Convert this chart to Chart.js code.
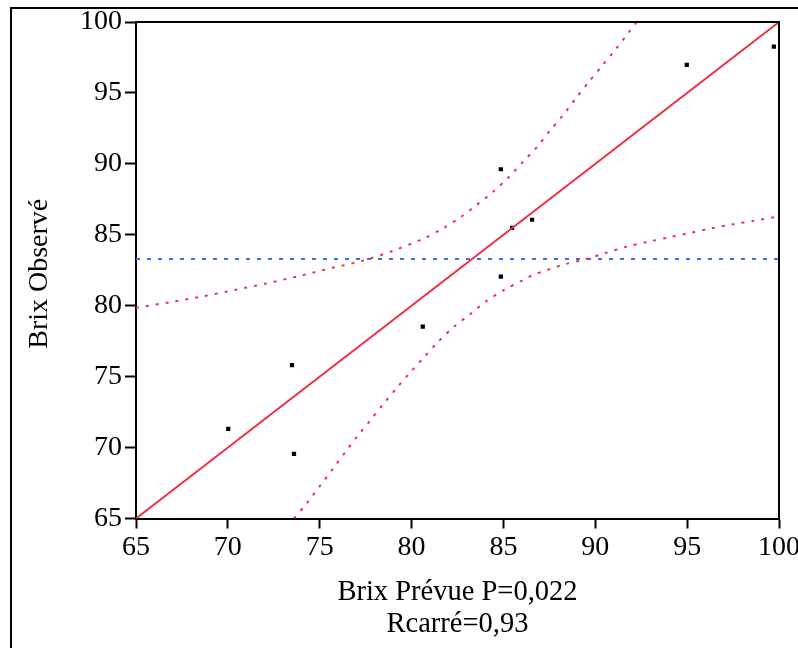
<!DOCTYPE html>
<html>
<head>
<meta charset="utf-8">
<script src="https://cdn.jsdelivr.net/npm/chart.js@4"></script>
<style>
  html, body { margin: 0; padding: 0; background: #fff; }
  #wrap { width: 798px; height: 648px; position: relative; }
</style>
</head>
<body>
<div id="wrap"><canvas id="c" width="798" height="648"></canvas></div>
<script>
// Observed points (Brix Prévue, Brix Observé)
const predX = [70.02, 73.49, 73.6, 80.61, 84.86, 84.86, 85.47, 86.56, 94.98, 99.72];
const obsY  = [71.31, 75.82, 69.55, 78.52, 89.62, 82.05, 85.48, 86.06, 96.97, 98.26];

// Fitted line
const fitX = [65, 100];
const fitY = [65, 100];

// Mean of observed (horizontal dotted line)
const meanX = [65, 100];
const meanY = [83.3, 83.3];

// Upper confidence curve
const upX = [65, 66.9, 68.63, 70.44, 72.13, 73.89, 75.6, 77.33, 78.96, 80.63, 81.72, 82.63, 83.54, 84.44, 85.26, 86.07, 86.84, 87.52, 88.25, 88.94, 89.66, 90.37, 91.08, 91.78, 92.25];
const upY = [79.85, 80.26, 80.66, 81.13, 81.58, 82.10, 82.64, 83.17, 83.86, 84.72, 85.46, 86.21, 87.1, 88.04, 89.02, 90.15, 91.21, 92.32, 93.44, 94.62, 95.79, 96.92, 98.03, 99.2, 100];

// Lower confidence curve
const loX = [73.6, 74.29, 75.01, 75.7, 76.37, 77.06, 77.77, 78.45, 79.18, 79.91, 80.67, 81.45, 82.26, 83.17, 84.08, 85.08, 86.07, 86.62, 88.34, 89.48, 90.57, 91.7, 92.84, 94.0, 95.15, 96.34, 97.5, 98.68, 100];
const loY = [65.0, 66.07, 67.29, 68.47, 69.64, 70.82, 71.94, 73.05, 74.18, 75.28, 76.36, 77.46, 78.47, 79.39, 80.33, 81.15, 81.81, 82.17, 82.92, 83.29, 83.72, 84.16, 84.49, 84.82, 85.13, 85.46, 85.74, 86.0, 86.3];

const tickValues = [65, 70, 75, 80, 85, 90, 95, 100];
const xTitle = ['Brix Prévue P=0,022', 'Rcarré=0,93'];
const yTitle = 'Brix Observé ';

const zip = (xs, ys) => xs.map((x, i) => ({ x: x, y: ys[i] }));

const RED = 'rgb(238,50,72)';
const BLUE = 'rgb(58,110,240)';
const FONT = 'Liberation Serif';

const framePlugin = {
  id: 'frame',
  beforeDraw(chart) {
    const ctx = chart.ctx;
    ctx.save();
    ctx.fillStyle = '#fff';
    ctx.fillRect(0, 0, chart.width, chart.height);
    ctx.strokeStyle = '#000';
    ctx.lineWidth = 2;
    ctx.beginPath();
    ctx.moveTo(11, 648);
    ctx.lineTo(11, 8);
    ctx.lineTo(798, 8);
    ctx.stroke();
    ctx.restore();
  },
  afterDatasetsDraw(chart) {
    const a = chart.chartArea;
    const ctx = chart.ctx;
    ctx.save();
    ctx.strokeStyle = '#000';
    ctx.lineWidth = 2;
    ctx.beginPath();
    ctx.moveTo(a.left, a.top);
    ctx.lineTo(a.right, a.top);
    ctx.lineTo(a.right, a.bottom);
    ctx.stroke();
    ctx.restore();
  }
};

new Chart(document.getElementById('c'), {
  type: 'scatter',
  data: {
    datasets: [
      {
        data: zip(upX, upY), showLine: true, borderColor: RED, borderWidth: 2,
        borderDash: [3, 7], pointRadius: 0, tension: 0.3, fill: false
      },
      {
        data: zip(loX, loY), showLine: true, borderColor: RED, borderWidth: 2,
        borderDash: [3, 7], pointRadius: 0, tension: 0.3, fill: false
      },
      {
        data: zip(meanX, meanY), showLine: true, borderColor: BLUE, borderWidth: 2,
        borderDash: [4, 7], pointRadius: 0, fill: false
      },
      {
        data: zip(fitX, fitY), showLine: true, borderColor: RED, borderWidth: 2,
        pointRadius: 0, fill: false
      },
      {
        data: zip(predX, obsY), showLine: false, pointStyle: 'rect',
        pointRadius: 3, pointBackgroundColor: '#000', pointBorderWidth: 0,
        borderColor: '#000'
      }
    ]
  },
  options: {
    responsive: false,
    animation: false,
    events: [],
    layout: { padding: { left: 0, right: 19, top: 22, bottom: 0 } },
    plugins: { legend: { display: false }, tooltip: { enabled: false } },
    scales: {
      x: {
        type: 'linear', min: 65, max: 100,
        afterBuildTicks: (s) => { s.ticks = tickValues.map(v => ({ value: v })); },
        afterFit: (s) => { s.height = 129.5; s.paddingLeft = 0; s.paddingRight = 0; },
        ticks: { color: '#000', font: { family: FONT, size: 28 }, padding: 2, maxRotation: 0, autoSkip: false },
        grid: { drawOnChartArea: false, drawTicks: true, tickLength: 10, tickColor: '#000', tickWidth: 2 },
        border: { display: true, color: '#000', width: 2 },
        title: {
          display: true, text: xTitle, color: '#000',
          font: { family: FONT, size: 28.5, lineHeight: 1.1 },
          padding: { top: 0, bottom: 8 }
        }
      },
      y: {
        type: 'linear', min: 65, max: 100,
        afterBuildTicks: (s) => { s.ticks = tickValues.map(v => ({ value: v })); },
        afterFit: (s) => { s.width = 136; s.paddingTop = 0; s.paddingBottom = 0; },
        ticks: { color: '#000', font: { family: FONT, size: 28 }, padding: 3, autoSkip: false },
        grid: { drawOnChartArea: false, drawTicks: true, tickLength: 11, tickColor: '#000', tickWidth: 2 },
        border: { display: true, color: '#000', width: 2 },
        title: {
          display: true, text: yTitle, color: '#000',
          font: { family: FONT, size: 28, lineHeight: 1.2 },
          padding: { top: 23, bottom: 0 }
        }
      }
    }
  },
  plugins: [framePlugin]
});
</script>
</body>
</html>
